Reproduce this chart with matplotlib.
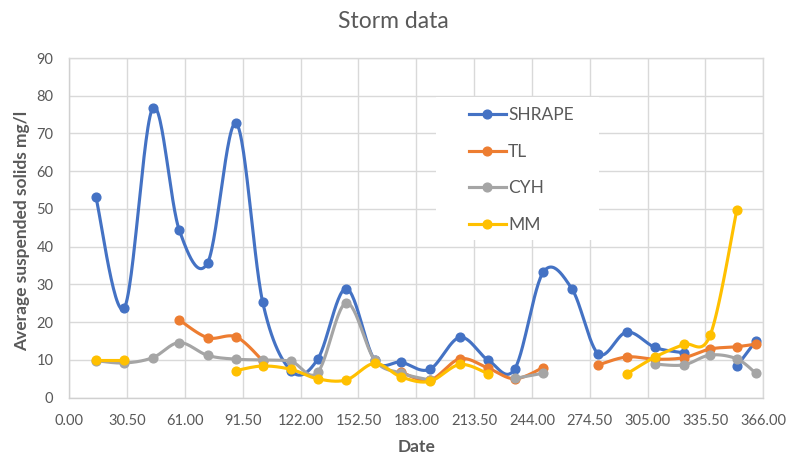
import numpy as np
import matplotlib
matplotlib.use("Agg")
import matplotlib.pyplot as plt
from matplotlib.patches import Rectangle
from matplotlib.lines import Line2D

# ---------------- data ----------------
days = [14, 29, 44, 58, 73, 88, 102, 117, 131, 146, 161, 175, 190, 206,
        221, 235, 250, 265, 279, 294, 309, 324, 338, 352, 362]
shrape = [53.2, 23.8, 76.7, 44.4, 35.8, 72.7, 25.3, 7.1, 10.2, 28.9, 10.0, 9.4,
          7.5, 16.0, 9.9, 7.7, 33.3, 28.9, 11.6, 17.4, 13.3, 11.9, None, 8.3, 15.0]
tl = [None, None, None, 20.6, 15.9, 16.1, 9.8, None, None, None, None, 6.8,
      4.6, 10.3, 7.8, 5.0, 8.0, None, 8.7, 10.8, 10.2, 10.6, 12.9, 13.5, 14.2]
cyh = [9.8, 9.2, 10.6, 14.6, 11.2, 10.2, 10.0, 9.6, 6.7, 25.1, 10.0, 6.5,
       4.7, None, None, 5.1, 6.5, None, None, None, 8.9, 8.7, 11.3, 10.3, 6.5]
mm = [10.1, 10.1, None, None, None, 7.2, 8.4, 7.5, 5.0, 4.7, 9.1, 5.5,
      4.3, 8.8, 6.3, None, None, None, None, 6.3, 10.8, 14.1, 16.6, 49.6, None]

series_names = ["SHRAPE", "TL", "CYH", "MM"]
series_values = [shrape, tl, cyh, mm]
series_colors = ["#4472C4", "#ED7D31", "#A5A5A5", "#FFC000"]

x_ticks = [0.0, 30.5, 61.0, 91.5, 122.0, 152.5, 183.0, 213.5, 244.0, 274.5, 305.0, 335.5, 366.0]
y_ticks = [0, 10, 20, 30, 40, 50, 60, 70, 80, 90]

title = "Storm data"
x_label = "Date"
y_label = "Average suspended solids mg/l"

# ---------------- helpers ----------------
def runs(xs, ys):
    cur = []
    for x, y in zip(xs, ys):
        if y is None:
            if cur:
                yield cur
            cur = []
        else:
            cur.append((x, y))
    if cur:
        yield cur


def smooth(pts, n=30):
    p = np.array(pts, dtype=float)
    if len(p) < 2:
        return p[:, 0], p[:, 1]
    out = [p[0]]
    t = np.linspace(0, 1, n)[1:, None]
    for i in range(len(p) - 1):
        p0 = p[i - 1] if i > 0 else p[i]
        p1 = p[i]
        p2 = p[i + 1]
        p3 = p[i + 2] if i + 2 < len(p) else p[i + 1]
        c1 = p1 + (p2 - p0) / 6.0
        c2 = p2 - (p3 - p1) / 6.0
        seg = ((1 - t) ** 3) * p1 + 3 * ((1 - t) ** 2) * t * c1 + 3 * (1 - t) * t ** 2 * c2 + t ** 3 * p2
        out.extend(seg)
    out = np.array(out)
    return out[:, 0], out[:, 1]


# ---------------- figure ----------------
W, H = 787, 457
fig = plt.figure(figsize=(W / 100, H / 100), dpi=100)
L, R, T, B = 69.3, 763.3, 58.0, 397.7
ax = fig.add_axes([L / W, 1 - B / H, (R - L) / W, (B - T) / H])

txt = "#595959"
grid = "#D9D9D9"
fam = ["Lato", "DejaVu Sans"]

ax.set_xlim(0, 366)
ax.set_ylim(0, 90)
ax.set_xticks(x_ticks)
ax.set_xticklabels([f"{v:.2f}" for v in x_ticks])
ax.set_yticks(y_ticks)
ax.set_yticklabels([str(v) for v in y_ticks])
ax.tick_params(length=0, colors=txt, labelsize=10.5, pad=11.5)
for lab in ax.get_xticklabels() + ax.get_yticklabels():
    lab.set_family(fam)
ax.set_axisbelow(True)
ax.grid(True, color=grid, lw=1.0)
for s in ax.spines.values():
    s.set_color(grid)
    s.set_linewidth(1.0)
ax.spines["left"].set_color("#D0D0D0")
ax.spines["bottom"].set_color("#D0D0D0")

for k, (name, vals, col) in enumerate(zip(series_names, series_values, series_colors)):
    z = 3 + k
    first = True
    for run in runs(days, vals):
        sx, sy = smooth(run)
        ax.plot(sx, sy, color=col, lw=2.25, zorder=z, solid_capstyle="round",
                label=name if first else None)
        first = False
    px = [d for d, v in zip(days, vals) if v is not None]
    py = [v for v in vals if v is not None]
    ax.plot(px, py, "o", color=col, ms=6.3, zorder=z + 0.5)

# legend background box
fig.patches.append(Rectangle((436 / W, 1 - 240 / H), (599 - 436) / W, (240 - 97) / H,
                             transform=fig.transFigure, facecolor="white",
                             edgecolor="none", zorder=2))
handles = [Line2D([], [], color=c, lw=2.25, marker="o", ms=6.3) for c in series_colors]
leg = fig.legend(handles, series_names, loc="upper left",
                 bbox_to_anchor=(457 / W, 1 - 95 / H), frameon=False,
                 prop={"family": fam, "size": 12.5}, handlelength=2.1,
                 handletextpad=0.15, labelspacing=1.18, borderpad=0.2)
for t in leg.get_texts():
    t.set_color(txt)

fig.text(393.5 / W, 1 - 21 / H, title, ha="center", va="center", color=txt,
         fontsize=16.5, family=fam, fontweight="normal")

ax.set_xlabel(x_label, fontsize=12.5, fontweight="bold", color=txt, family=fam)
ax.xaxis.label.set_va("center")
ax.xaxis.set_label_coords(((417 - L) / (R - L)), (B - 447) / (B - T))
ax.set_ylabel(y_label, fontsize=12.5, fontweight="bold", color=txt, family=fam)
ax.yaxis.label.set_va("center")
ax.yaxis.set_label_coords((21.7 - L) / (R - L), (B - 231) / (B - T))

fig.savefig("out.png", dpi=100)
